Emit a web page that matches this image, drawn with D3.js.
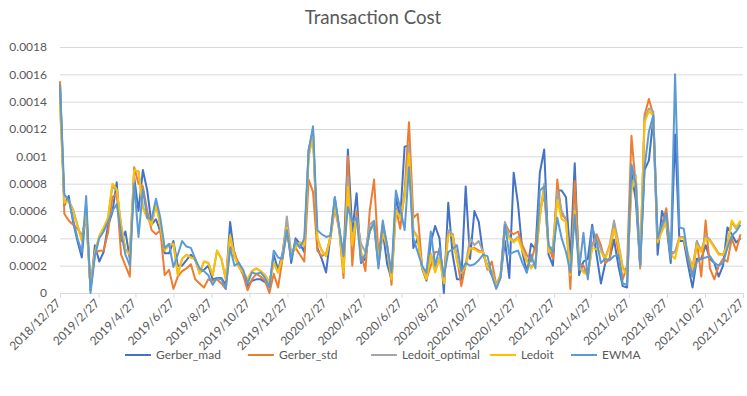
<!DOCTYPE html>
<html>
<head>
<meta charset="utf-8">
<script src="https://cdn.jsdelivr.net/npm/d3@7"></script>
<style>
    body { margin: 0; background: #fff; }
    text { font-family: Lato, "Liberation Sans", sans-serif; fill: #595959; }
</style>
</head>
<body>
<div id="chart"></div>
<script>
// weekly observations starting here
const startDate = "2018/12/27";

const tickLabels = ["2018/12/27", "2019/2/27", "2019/4/27", "2019/6/27", "2019/8/27", "2019/10/27",
    "2019/12/27", "2020/2/27", "2020/4/27", "2020/6/27", "2020/8/27", "2020/10/27", "2020/12/27",
    "2021/2/27", "2021/4/27", "2021/6/27", "2021/8/27", "2021/10/27", "2021/12/27"];

const yTicks = [0, 0.0002, 0.0004, 0.0006, 0.0008, 0.001, 0.0012, 0.0014, 0.0016, 0.0018];

const seriesNames = ["Gerber_mad", "Gerber_std", "Ledoit_optimal", "Ledoit", "EWMA"];
const seriesColors = ["#4472C4", "#ED7D31", "#A5A5A5", "#FFC000", "#5B9BD5"];

// values in units of 1e-4
const gerberMad = [15.3, 6.4, 7.1, 5.2, 3.8, 2.6, 6.4, 0.2, 3.5, 2.3, 3.0, 4.9, 5.9, 8.1, 3.8, 4.5, 2.5, 8.5, 6.0, 9.0,
    7.5, 5.0, 5.4, 4.5, 2.9, 2.9, 3.8, 2.0, 2.0, 2.4, 2.8, 2.4, 1.5, 1.7, 2.0, 1.0, 1.1, 1.1, 0.6, 5.2,
    2.7, 2.2, 1.5, 0.5, 0.9, 1.0, 1.0, 0.8, 0.5, 2.8, 1.7, 2.9, 5.1, 2.2, 4.0, 3.6, 3.0, 10.5, 11.9, 3.3,
    2.5, 1.5, 4.2, 7.0, 4.7, 2.5, 10.5, 4.5, 7.3, 2.2, 2.5, 4.7, 5.0, 2.0, 4.5, 2.1, 1.0, 7.0, 5.5, 10.7,
    10.8, 3.3, 4.0, 1.8, 0.9, 3.7, 4.9, 4.0, 0.0, 6.6, 2.8, 1.0, 1.0, 7.8, 2.5, 6.0, 5.2, 2.8, 2.0, 1.3,
    0.4, 1.2, 3.8, 1.1, 8.8, 6.5, 3.0, 1.5, 3.6, 3.2, 8.8, 10.5, 2.8, 2.0, 7.5, 7.5, 7.0, 2.5, 9.5, 1.3,
    2.3, 2.5, 5.0, 2.8, 0.7, 2.2, 2.5, 3.9, 2.0, 0.5, 0.4, 8.8, 6.8, 2.0, 9.0, 9.7, 12.8, 2.8, 6.0, 5.0,
    2.2, 11.6, 3.8, 3.8, 2.0, 0.4, 2.5, 2.5, 3.5, 2.5, 2.2, 1.2, 2.0, 4.8, 4.3, 3.7, 4.0];

const gerberStd = [15.5, 5.8, 5.3, 5.0, 4.7, 4.2, 5.5, 0.3, 2.9, 3.1, 3.1, 4.4, 7.0, 7.3, 2.8, 2.0, 1.2, 9.2, 8.0, 7.8,
    6.0, 4.6, 4.3, 4.6, 1.3, 1.7, 0.3, 1.2, 1.6, 1.8, 2.1, 1.0, 0.7, 0.4, 1.0, 0.9, 1.0, 0.7, 0.3, 3.4,
    3.0, 2.0, 1.3, 0.2, 1.0, 1.4, 1.2, 0.9, 0.0, 1.4, 0.4, 2.5, 4.4, 2.8, 3.3, 2.8, 2.3, 8.3, 7.4, 3.1,
    2.7, 2.9, 4.0, 6.2, 4.6, 1.1, 10.0, 2.0, 6.0, 3.0, 1.6, 6.0, 8.3, 2.8, 5.1, 3.5, 0.6, 6.2, 4.7, 7.5,
    12.5, 5.5, 5.8, 2.0, 1.0, 2.0, 3.0, 3.0, 1.2, 4.5, 4.3, 2.6, 0.5, 2.1, 3.2, 3.3, 3.1, 3.0, 1.7, 2.3,
    0.6, 1.3, 5.1, 4.5, 4.3, 4.5, 3.5, 2.8, 2.3, 3.5, 6.0, 7.2, 3.5, 2.5, 8.3, 5.7, 5.5, 0.3, 8.2, 2.2,
    2.0, 1.2, 3.5, 4.3, 3.5, 2.2, 2.5, 5.0, 3.0, 1.0, 2.0, 11.5, 7.8, 1.8, 13.0, 14.2, 13.0, 3.8, 5.0, 6.2,
    2.8, 3.0, 4.0, 4.1, 2.5, 1.2, 3.8, 1.2, 5.3, 1.8, 1.0, 2.0, 2.5, 2.3, 4.0, 3.1, 4.3];

const ledoitOptimal = [14.0, 6.7, 6.8, 6.1, 5.0, 3.9, 5.9, 0.3, 3.0, 4.1, 4.7, 5.4, 7.8, 7.5, 5.0, 3.2, 2.9, 8.9, 8.9, 6.3,
    5.5, 5.0, 6.5, 5.0, 3.2, 3.5, 3.6, 1.4, 2.5, 2.8, 2.6, 2.5, 1.5, 2.3, 2.2, 1.3, 3.1, 2.5, 1.0, 4.2,
    2.7, 1.9, 1.5, 1.0, 1.6, 1.8, 1.6, 1.3, 0.8, 2.2, 1.5, 2.7, 5.6, 2.9, 3.4, 3.7, 3.5, 10.0, 11.6, 4.0,
    3.1, 2.7, 4.2, 6.5, 4.8, 1.6, 8.5, 3.6, 5.6, 3.6, 3.0, 5.0, 5.3, 2.6, 4.4, 3.5, 1.1, 6.1, 5.6, 7.2,
    10.8, 4.6, 4.1, 1.9, 1.1, 2.9, 1.6, 2.6, 0.8, 4.6, 4.3, 2.4, 1.5, 2.1, 4.0, 3.5, 3.8, 3.0, 1.8, 1.6,
    0.6, 1.3, 5.2, 4.1, 3.8, 4.1, 3.2, 2.4, 1.9, 2.3, 5.6, 8.0, 3.1, 3.4, 7.5, 6.0, 5.3, 1.4, 6.2, 2.0,
    1.6, 1.4, 3.4, 4.0, 3.2, 2.6, 3.5, 5.3, 3.7, 1.9, 1.4, 8.0, 8.6, 2.0, 12.8, 13.5, 13.3, 3.8, 4.6, 5.5,
    3.0, 3.0, 4.1, 4.1, 2.8, 1.9, 3.8, 3.1, 4.2, 3.9, 3.4, 2.9, 2.8, 3.6, 5.2, 4.7, 5.2];

const ledoit = [13.8, 6.6, 6.7, 6.0, 4.9, 3.8, 5.9, 0.3, 2.9, 4.2, 4.8, 5.5, 8.0, 7.6, 5.0, 3.1, 2.8, 9.0, 8.9, 6.2,
    5.5, 5.0, 6.5, 4.9, 3.1, 3.5, 3.6, 1.3, 2.5, 2.8, 2.6, 2.5, 1.4, 2.3, 2.2, 1.3, 3.1, 2.5, 1.0, 4.2,
    2.7, 1.9, 1.5, 1.0, 1.6, 1.8, 1.6, 1.3, 0.8, 2.2, 1.5, 2.6, 4.8, 2.8, 3.3, 3.7, 3.5, 10.0, 11.5, 4.0,
    3.1, 2.7, 4.1, 6.4, 4.7, 1.5, 7.8, 3.5, 5.5, 2.8, 2.7, 4.5, 5.0, 2.5, 4.3, 3.4, 1.0, 6.0, 5.5, 7.0,
    10.2, 4.5, 4.0, 1.9, 1.0, 2.8, 1.5, 2.5, 0.7, 4.2, 4.2, 2.3, 1.5, 2.0, 3.3, 3.2, 3.0, 3.0, 1.9, 1.5,
    0.5, 1.2, 4.5, 4.0, 3.7, 4.0, 3.1, 2.3, 1.8, 2.2, 5.5, 7.8, 3.0, 3.3, 6.8, 5.4, 5.2, 1.3, 6.0, 1.9,
    1.5, 1.3, 3.3, 3.2, 3.0, 2.5, 3.4, 4.7, 3.5, 1.8, 1.3, 7.5, 8.5, 2.0, 12.5, 13.3, 13.0, 3.7, 4.5, 5.2,
    2.8, 2.5, 4.0, 4.0, 2.7, 1.8, 3.5, 3.0, 4.0, 3.8, 3.3, 2.8, 2.8, 3.5, 5.3, 4.8, 5.3];

const ewma = [15.2, 7.2, 6.8, 5.4, 4.0, 3.0, 7.1, 0.0, 2.7, 4.0, 4.5, 5.2, 6.0, 6.5, 4.4, 2.8, 2.0, 8.0, 4.1, 7.6,
    5.5, 5.4, 6.9, 5.5, 3.3, 3.6, 1.9, 2.8, 3.8, 3.4, 3.3, 2.5, 1.8, 1.6, 1.3, 0.6, 1.1, 1.0, 0.3, 3.3,
    2.0, 2.2, 1.7, 0.7, 1.5, 1.4, 1.5, 1.1, 0.4, 3.1, 2.6, 2.5, 4.6, 2.5, 3.8, 3.3, 4.0, 10.4, 12.2, 4.6,
    4.3, 4.1, 4.2, 7.0, 4.8, 2.7, 6.3, 5.2, 5.5, 2.3, 2.8, 4.5, 5.2, 1.8, 5.3, 3.4, 1.5, 7.5, 6.2, 4.6,
    9.2, 4.0, 3.0, 2.0, 1.5, 4.5, 2.0, 3.3, 1.2, 3.0, 3.2, 3.5, 1.6, 2.2, 2.0, 2.1, 2.4, 2.8, 2.7, 1.3,
    0.3, 1.1, 5.0, 2.8, 3.0, 3.1, 2.2, 1.5, 2.8, 1.8, 7.5, 7.8, 3.5, 3.0, 5.5, 4.0, 3.0, 1.5, 5.7, 1.7,
    4.4, 1.0, 4.8, 3.8, 2.2, 2.5, 2.4, 2.7, 2.8, 0.7, 0.6, 9.4, 8.0, 2.0, 9.2, 11.8, 13.0, 4.0, 5.0, 5.8,
    2.5, 16.0, 4.8, 4.7, 2.5, 1.2, 2.3, 2.5, 2.6, 2.7, 2.2, 2.0, 2.2, 3.3, 4.2, 4.5, 5.0];

const seriesValues = [gerberMad, gerberStd, ledoitOptimal, ledoit, ewma];

// legend item positions
const legendX = [125, 248, 371, 490, 571];

const width = 747, height = 396;
const plot = {left: 60, right: 743, top: 47, bottom: 293};

const parseDate = d3.timeParse("%Y/%m/%d");
const dates = d3.range(gerberMad.length).map(i => d3.timeDay.offset(parseDate(startDate), 7 * i));
const tickDates = tickLabels.map(parseDate);

const svg = d3.select("#chart").append("svg")
    .attr("width", width)
    .attr("height", height);

svg.append("rect").attr("width", width).attr("height", height).attr("fill", "#fff");

// title
svg.append("text")
    .attr("x", 373)
    .attr("y", 24)
    .attr("text-anchor", "middle")
    .attr("font-size", "18.7px")
    .text("Transaction Cost");

// scales
const x = d3.scaleTime()
    .domain([tickDates[0], tickDates[tickDates.length - 1]])
    .range([plot.left, plot.right]);
const y = d3.scaleLinear()
    .domain([0, 0.0018])
    .range([plot.bottom, plot.top]);

// gridlines + y labels
const yAxis = svg.append("g")
    .attr("transform", `translate(${plot.left},0)`)
    .call(d3.axisLeft(y).tickValues(yTicks).tickSize(-(plot.right - plot.left)).tickPadding(13)
        .tickFormat(d => d === 0 ? "0" : String(+d.toFixed(4))));
yAxis.select(".domain").remove();
yAxis.selectAll("line").attr("stroke", "#d9d9d9").attr("stroke-width", 1);
yAxis.selectAll("text").attr("font-size", "12px").attr("font-family", null).attr("fill", "#595959");

// x axis
const xAxis = svg.append("g")
    .attr("transform", `translate(0,${plot.bottom})`)
    .call(d3.axisBottom(x).tickValues(tickDates).tickSize(5).tickSizeOuter(0)
        .tickFormat((d, i) => tickLabels[i]));
xAxis.select(".domain").attr("stroke", "#d9d9d9");
xAxis.selectAll("line").attr("stroke", "#d9d9d9");
xAxis.selectAll("text")
    .attr("font-size", "12px")
    .attr("font-family", null)
    .attr("fill", "#595959")
    .attr("text-anchor", "end")
    .attr("x", 0)
    .attr("y", 0)
    .attr("dx", 0)
    .attr("dy", "0.35em")
    .attr("transform", "translate(-2,8) rotate(-45)");

// lines
const line = d3.line()
    .x((d, i) => x(dates[i]))
    .y(d => y(d * 1e-4));

seriesValues.forEach((vals, k) => {
    svg.append("path")
        .datum(vals)
        .attr("fill", "none")
        .attr("stroke", seriesColors[k])
        .attr("stroke-width", 2)
        .attr("stroke-linejoin", "round")
        .attr("d", line);
});

// legend
const legend = svg.append("g").attr("transform", "translate(0,355)");
seriesNames.forEach((name, k) => {
    legend.append("line")
        .attr("x1", legendX[k]).attr("x2", legendX[k] + 26)
        .attr("y1", 0).attr("y2", 0)
        .attr("stroke", seriesColors[k])
        .attr("stroke-width", 2);
    legend.append("text")
        .attr("x", legendX[k] + 31)
        .attr("y", 4)
        .attr("font-size", "12px")
        .text(name);
});
</script>
</body>
</html>
